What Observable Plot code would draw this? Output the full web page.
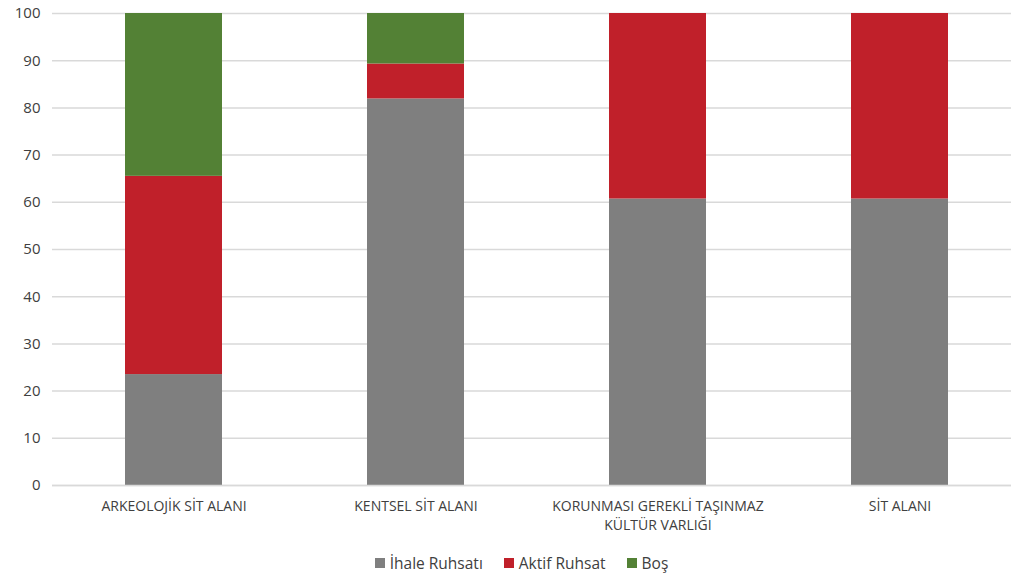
<!DOCTYPE html>
<html>
<head>
<meta charset="utf-8">
<script src="https://cdn.jsdelivr.net/npm/d3@7"></script>
<script src="https://cdn.jsdelivr.net/npm/@observablehq/plot@0.6"></script>
<style>
  body { margin: 0; background: #fff; font-family: "Open Sans", "Liberation Sans", sans-serif; }
  #legend { display: flex; justify-content: center; align-items: center; gap: 21px; height: 56px; font-size: 15.5px; color: #404040; padding-left: 32px; }
  #legend span.sw { display: inline-block; width: 10px; height: 10px; margin-right: 5px; }
  #legend div { display: flex; align-items: center; }
</style>
</head>
<body>
<div id="chart"></div>
<div id="legend"></div>
<script>
const categories = ["ARKEOLOJİK SİT ALANI", "KENTSEL SİT ALANI", "KORUNMASI GEREKLİ TAŞINMAZ\nKÜLTÜR VARLIĞI", "SİT ALANI"];
const seriesNames = ["İhale Ruhsatı", "Aktif Ruhsat", "Boş"];
const ihale = [23.5, 81.9, 60.7, 60.7];
const aktif = [42.0, 7.4, 39.3, 39.3];
const bos = [34.5, 10.7, 0, 0];
const colors = ["#7f7f7f", "#c0202a", "#538135"];
const yTicks = [0, 10, 20, 30, 40, 50, 60, 70, 80, 90, 100];

const seriesValues = [ihale, aktif, bos];
const data = [];
seriesNames.forEach((s, si) => {
  categories.forEach((c, ci) => {
    data.push({category: c, series: s, value: seriesValues[si][ci]});
  });
});

const chart = Plot.plot({
  width: 1011,
  height: 535,
  marginTop: 13,
  marginBottom: 50,
  marginLeft: 52,
  marginRight: 0,
  style: {fontFamily: "'Open Sans', 'Liberation Sans', sans-serif", color: "#404040", background: "#fff"},
  x: {domain: categories, range: [52, 1020], paddingInner: 0.6, paddingOuter: 0.3, label: null},
  y: {domain: [0, 100], label: null},
  color: {domain: seriesNames, range: colors},
  marks: [
    Plot.gridY(yTicks, {stroke: "#d9d9d9", strokeOpacity: 1, strokeWidth: 1.5}),
    Plot.axisY(yTicks, {tickSize: 0, tickPadding: 12, fontSize: 15, fill: "#404040", label: null}),
    Plot.axisX({tickSize: 0, tickPadding: 13, fontSize: 14, fill: "#404040", label: null, lineHeight: 1.3}),
    Plot.barY(data, {x: "category", y: "value", fill: "series", order: seriesNames}),
    Plot.ruleY([0], {stroke: "#d9d9d9", strokeWidth: 1.5})
  ]
});
document.getElementById("chart").appendChild(chart);

const legend = document.getElementById("legend");
seriesNames.forEach((s, i) => {
  const d = document.createElement("div");
  const sw = document.createElement("span");
  sw.className = "sw";
  sw.style.background = colors[i];
  d.appendChild(sw);
  d.appendChild(document.createTextNode(s));
  legend.appendChild(d);
});
</script>
</body>
</html>
